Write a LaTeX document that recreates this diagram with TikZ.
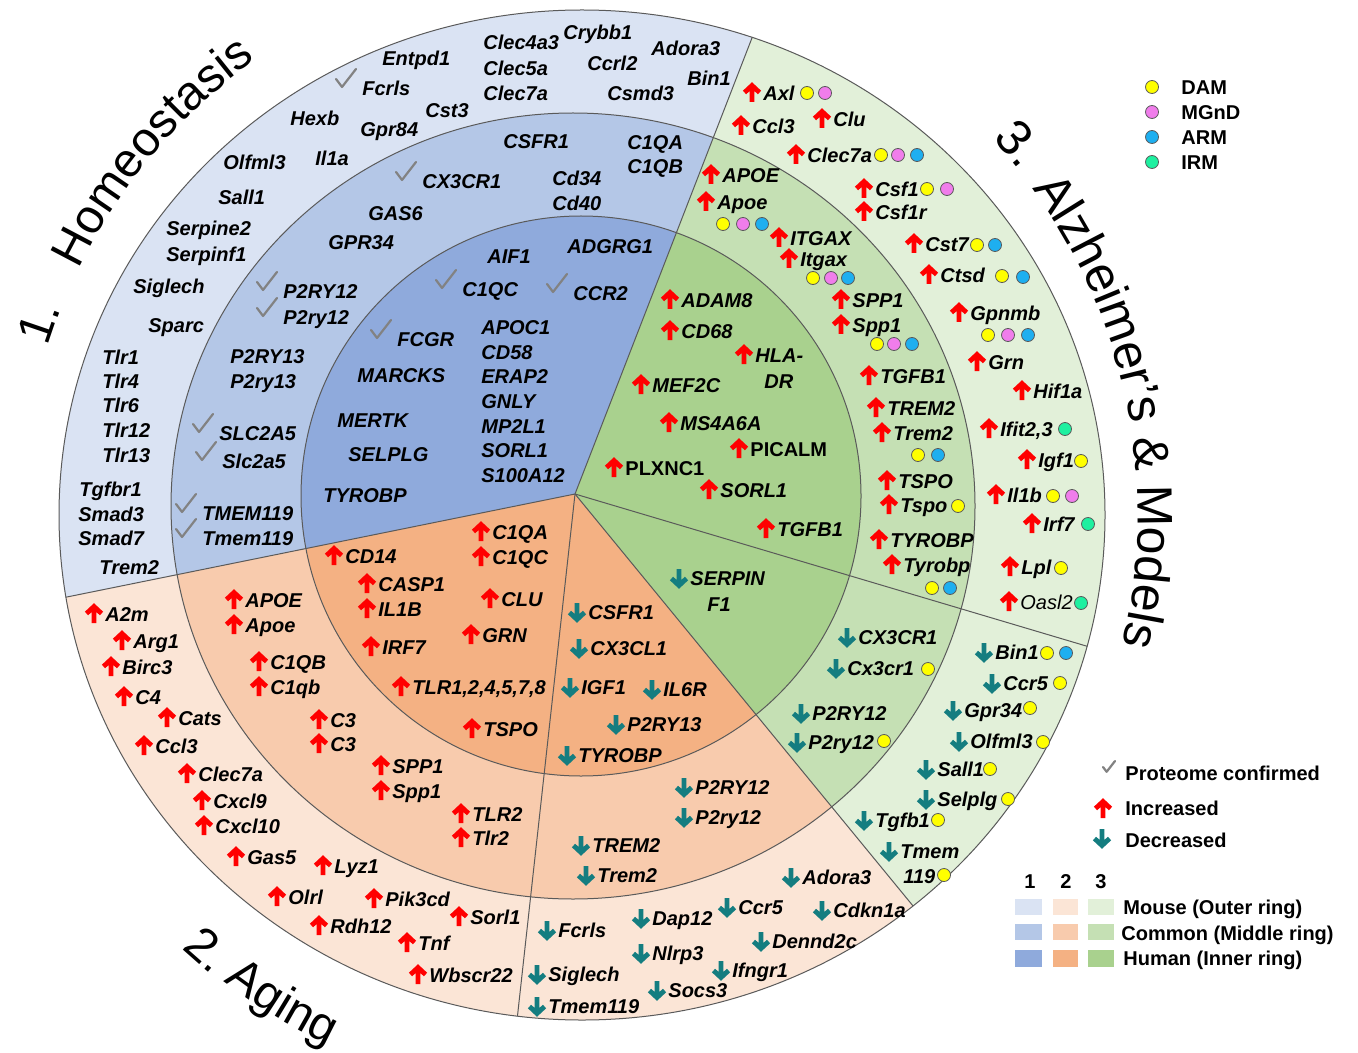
\documentclass[tikz,border=0pt]{standalone}
\usepackage{fontspec}
\setmainfont{Liberation Sans}
\usetikzlibrary{decorations.text,calc}
\definecolor{bO}{HTML}{DAE3F3}\definecolor{bM}{HTML}{B4C7E7}\definecolor{bI}{HTML}{8FAADC}
\definecolor{oO}{HTML}{FBE5D6}\definecolor{oM}{HTML}{F8CBAD}\definecolor{oI}{HTML}{F4B183}
\definecolor{gO}{HTML}{E2F0D9}\definecolor{gM}{HTML}{C5E0B4}\definecolor{gI}{HTML}{A9D18E}
\definecolor{arrred}{RGB}{255,0,0}
\definecolor{arrteal}{RGB}{20,125,128}
\definecolor{chkgray}{RGB}{130,130,130}
\definecolor{dY}{RGB}{255,255,0}\definecolor{dP}{RGB}{240,125,235}
\definecolor{dB}{RGB}{30,175,240}\definecolor{dG}{RGB}{30,240,160}
\definecolor{edge}{RGB}{90,90,90}
\newcommand\genefont{\fontsize{10}{12}\selectfont\bfseries\itshape}
\newcommand\genefontup{\fontsize{10}{12}\selectfont\bfseries}
\newcommand\genefontlight{\fontsize{10}{12}\selectfont\itshape}
\newcommand\ttlfont{\fontsize{24}{28}\selectfont}
\newcommand\ttlfontb{\fontsize{25}{29}\selectfont}
\newcounter{gn}
\tikzset{
  gene/.style={font=\genefont, inner sep=0pt, anchor=west, text height=7.2pt, text depth=0pt},
  legtext/.style={font=\genefontup, inner sep=0pt, anchor=west, text height=7.2pt, text depth=0pt},
  edgeline/.style={draw=edge, line width=0.5pt},
  uparr/.pic={\draw[arrred, line width=2.4pt] (0,9) -- (0,-6) (-7.5,-0.5) -- (0,-7.5) -- (7.5,-0.5);},
  dnarr/.pic={\draw[arrteal, line width=2.4pt] (0,-9) -- (0,6) (-7.5,0.5) -- (0,7.5) -- (7.5,0.5);},
  chk/.pic={\draw[chkgray, line width=1.1pt, line cap=round, line join=round] (-10,0) -- (-4,8) -- (10,-10);},
}
\newcommand\glab[4][]{\stepcounter{gn}\node[gene,#1] (g\arabic{gn}) at (#2,#3) {#4};}
\newcommand\gup[4][]{\glab[#1]{#2}{#3}{#4}\pic at ([xshift=-5.5pt]g\arabic{gn}.west) {uparr};}
\newcommand\gdn[4][]{\glab[#1]{#2}{#3}{#4}\pic at ([xshift=-5.5pt]g\arabic{gn}.west) {dnarr};}
\newcommand\gck[4][]{\glab[#1]{#2}{#3}{#4}\pic at ([xshift=-8pt,yshift=4.5pt]g\arabic{gn}.west) {chk};}
\newcommand\gdot[3]{\filldraw[fill=#1, draw=edge, line width=0.4pt] (#2,#3) circle[radius=6.5];}
\newcommand\ringsector[3]{\fill[#1] (P) -- ++(#2:1200) arc[start angle=#2, end angle=#3, radius=1200] -- cycle;}

\begin{document}
\begin{tikzpicture}[x=0.5pt, y=-0.5pt]
\fill[white] (0,0) rectangle (1358,1053);
\useasboundingbox (0,0) rectangle (1358,1053);
\coordinate (P) at (575,494);
\coordinate (Co) at (582,515);
\coordinate (Cm) at (573,506);
\coordinate (Ci) at (581,496);

% rings
\begin{scope}
  \clip (Co) ellipse[x radius=523, y radius=505];
  \ringsector{bO}{168.54}{291.21}
  \ringsector{oO}{50.63}{168.54}
  \ringsector{gO}{-68.79}{50.63}
\end{scope}
\begin{scope}
  \clip (Cm) ellipse[x radius=402, y radius=393];
  \ringsector{bM}{168.54}{291.21}
  \ringsector{oM}{50.63}{168.54}
  \ringsector{gM}{-68.79}{50.63}
\end{scope}
\begin{scope}
  \clip (Ci) circle[radius=280];
  \ringsector{bI}{168.54}{291.21}
  \ringsector{oI}{50.63}{168.54}
  \ringsector{gI}{-68.79}{50.63}
\end{scope}
\draw[edgeline] (Co) ellipse[x radius=523, y radius=505];
\draw[edgeline] (Cm) ellipse[x radius=402, y radius=393];
\draw[edgeline] (Ci) circle[radius=280];
\begin{scope}
  \clip (Co) ellipse[x radius=523, y radius=505];
  \foreach \a in {-68.79,16.56,50.63,96.29,168.54}{\draw[edgeline] (P) -- ++(\a:700);}
\end{scope}

% titles
\path[decorate, decoration={text along path, text={|\ttlfont|1.}}]
  ($(Co)+(-162.5:560)$) arc[start angle=-162.5, end angle=-150, radius=560];
\path[decorate, decoration={text along path, text={|\ttlfont|Homeostasis}}]
  ($(Co)+(-154:560)$) arc[start angle=-154, end angle=-100, radius=560];
\path[decorate, decoration={text along path, text={|\ttlfontb|3.}}]
  ($(Co)+(-42.5:557)$) arc[start angle=-42.5, end angle=-28, radius=557];
\path[decorate, decoration={text along path, text={|\ttlfontb|Alzheimer’s {\&} Models}}]
  ($(Co)+(-36:556)$) arc[start angle=-36, end angle=30, radius=556];
\path[decorate, decoration={text along path, text={|\ttlfont|2.}}]
  ($(Co)+(132.7:590)$) arc[start angle=132.7, end angle=118, radius=590];
\path[decorate, decoration={text along path, text={|\ttlfont|Aging}}]
  ($(Co)+(127.5:588)$) arc[start angle=127.5, end angle=100, radius=588];

% blue outer
\glab{382}{58}{Entpd1}
\gck{362}{88}{Fcrls}
\glab{290}{118}{Hexb}
\glab{360}{129}{Gpr84}
\glab{425}{110}{Cst3}
\glab{483}{42}{Clec4a3}
\glab{483}{68}{Clec5a}
\glab{483}{93}{Clec7a}
\glab{563}{32}{Crybb1}
\glab{587}{63}{Ccrl2}
\glab{607}{93}{Csmd3}
\glab{651}{48}{Adora3}
\glab{687}{78}{Bin1}
\glab{223}{162}{Olfml3}
\glab{315}{158}{Il1a}
\glab{218}{197}{Sall1}
\glab{166}{228}{Serpine2}
\glab{166}{254}{Serpinf1}
\glab{133}{286}{Siglech}
\glab{148}{325}{Sparc}
\glab{102}{357}{Tlr1}
\glab{102}{381}{Tlr4}
\glab{102}{405}{Tlr6}
\glab{102}{430}{Tlr12}
\glab{102}{455}{Tlr13}
\glab{79}{489}{Tgfbr1}
\glab{78}{514}{Smad3}
\glab{78}{538}{Smad7}
\glab{99}{567}{Trem2}
% blue middle
\glab{503}{141}{CSFR1}
\glab{627}{142}{C1QA}
\glab{627}{166}{C1QB}
\gck{422}{181}{CX3CR1}
\glab{552}{178}{Cd34}
\glab{552}{203}{Cd40}
\glab{368}{213}{GAS6}
\glab{328}{242}{GPR34}
\gck{283}{291}{P2RY12}
\gck{283}{317}{P2ry12}
\glab{230}{356}{P2RY13}
\glab{230}{381}{P2ry13}
\gck{219}{433}{SLC2A5}
\gck{222}{461}{Slc2a5}
\gck{202}{513}{TMEM119}
\gck{202}{538}{Tmem119}
% blue inner
\glab{487}{256}{AIF1}
\glab{567}{246}{ADGRG1}
\gck{462}{289}{C1QC}
\gck{573}{293}{CCR2}
\gck{397}{339}{FCGR}
\glab{481}{327}{APOC1}
\glab{481}{352}{CD58}
\glab{357}{375}{MARCKS}
\glab{481}{376}{ERAP2}
\glab{481}{401}{GNLY}
\glab{337}{420}{MERTK}
\glab{481}{426}{MP2L1}
\glab{348}{454}{SELPLG}
\glab{481}{450}{SORL1}
\glab{481}{475}{S100A12}
\glab{323}{495}{TYROBP}

% orange inner
\gup{345}{556}{CD14}
\gup{378}{584}{CASP1}
\gup{378}{609}{IL1B}
\gup{382}{647}{IRF7}
\gup{492}{532}{C1QA}
\gup{492}{557}{C1QC}
\gup{501}{599}{CLU}
\gup{482}{635}{GRN}
\gup{412}{687}{TLR1,2,4,5,7,8}
\gup{483}{729}{TSPO}
\gdn{588}{612}{CSFR1}
\gdn{590}{648}{CX3CL1}
\gdn{581}{687}{IGF1}
\gdn{663}{689}{IL6R}
\gdn{627}{724}{P2RY13}
\gdn{578}{755}{TYROBP}
% orange middle
\gup{245}{600}{APOE}
\gup{245}{625}{Apoe}
\gup{270}{662}{C1QB}
\gup{270}{687}{C1qb}
\gup{330}{720}{C3}
\gup{330}{744}{C3}
\gup{392}{766}{SPP1}
\gup{392}{791}{Spp1}
\gup{472}{814}{TLR2}
\gup{472}{838}{Tlr2}
\gdn{695}{787}{P2RY12}
\gdn{695}{817}{P2ry12}
\gdn{592}{845}{TREM2}
\gdn{597}{875}{Trem2}
% orange outer
\gup{105}{614}{A2m}
\gup{133}{641}{Arg1}
\gup{122}{667}{Birc3}
\gup{135}{697}{C4}
\gup{178}{718}{Cats}
\gup{155}{746}{Ccl3}
\gup{198}{774}{Clec7a}
\gup{213}{801}{Cxcl9}
\gup{215}{826}{Cxcl10}
\gup{247}{857}{Gas5}
\gup{334}{866}{Lyz1}
\gup{288}{897}{Olrl}
\gup{385}{899}{Pik3cd}
\gup{330}{926}{Rdh12}
\gup{470}{917}{Sorl1}
\gup{418}{943}{Tnf}
\gup{429}{975}{Wbscr22}
\gdn{558}{930}{Fcrls}
\gdn{548}{974}{Siglech}
\gdn{548}{1006}{Tmem119}
\gdn{652}{918}{Dap12}
\gdn{652}{953}{Nlrp3}
\gdn{668}{990}{Socs3}
\gdn{738}{907}{Ccr5}
\gdn{732}{970}{Ifngr1}
\gdn{802}{877}{Adora3}
\gdn{772}{941}{Dennd2c}
\gdn{833}{910}{Cdkn1a}

% green inner
\gup{681}{300}{ADAM8}
\gup{681}{331}{CD68}
\gup{755}{355}{HLA-}
\glab{764}{381}{DR}
\gup{652}{385}{MEF2C}
\gup{680}{423}{MS4A6A}
\gup[font=\genefontup]{750}{449}{PICALM}
\gup[font=\genefontup]{625}{468}{PLXNC1}
\gup{720}{490}{SORL1}
\gup{777}{529}{TGFB1}
\gdn{690}{578}{SERPIN}
\glab{707}{604}{F1}
% green middle
\gup{722}{175}{APOE}
\gup{717}{202}{Apoe}
\gdot{dY}{723}{224}\gdot{dP}{743}{224}\gdot{dB}{762}{224}
\gup{790}{238}{ITGAX}
\gup{800}{259}{Itgax}
\gdot{dY}{813}{278}\gdot{dP}{831}{278}\gdot{dB}{848}{278}
\gup{852}{300}{SPP1}
\gup{852}{325}{Spp1}
\gdot{dY}{877}{344}\gdot{dP}{894}{344}\gdot{dB}{912}{344}
\gup{880}{376}{TGFB1}
\gup{887}{408}{TREM2}
\gup{893}{433}{Trem2}
\gdot{dY}{918}{455}\gdot{dB}{938}{455}
\gup{898}{481}{TSPO}
\gup{900}{505}{Tspo}
\gdot{dY}{958}{506}
\gup{890}{540}{TYROBP}
\gup{903}{565}{Tyrobp}
\gdot{dY}{932}{588}\gdot{dB}{950}{588}
\gdn{858}{637}{CX3CR1}
\gdn{847}{668}{Cx3cr1}
\gdot{dY}{928}{669}
\gdn{812}{713}{P2RY12}
\gdn{808}{742}{P2ry12}
\gdot{dY}{884}{741}
% green outer
\gup{763}{93}{Axl}
\gdot{dY}{807}{93}\gdot{dP}{825}{93}
\gup{752}{126}{Ccl3}
\gup{833}{119}{Clu}
\gup{807}{155}{Clec7a}
\gdot{dY}{881}{155}\gdot{dP}{898}{155}\gdot{dB}{917}{155}
\gup{875}{189}{Csf1}
\gdot{dY}{927}{189}\gdot{dP}{947}{189}
\gup{875}{212}{Csf1r}
\gup{925}{244}{Cst7}
\gdot{dY}{977}{245}\gdot{dB}{995}{245}
\gup{940}{275}{Ctsd}
\gdot{dY}{1002}{276}\gdot{dB}{1023}{277}
\gup{970}{313}{Gpnmb}
\gdot{dY}{988}{335}\gdot{dP}{1008}{335}\gdot{dB}{1028}{335}
\gup{988}{362}{Grn}
\gup{1033}{391}{Hif1a}
\gup{1000}{429}{Ifit2,3}
\gdot{dG}{1065}{429}
\gup{1038}{460}{Igf1}
\gdot{dY}{1081}{461}
\gup{1007}{495}{Il1b}
\gdot{dY}{1053}{496}\gdot{dP}{1072}{496}
\gup{1043}{524}{Irf7}
\gdot{dG}{1088}{524}
\gup{1021}{567}{Lpl}
\gdot{dY}{1061}{568}
\gup[font=\genefontlight]{1020}{602}{Oasl2}
\gdot{dG}{1081}{603}
\gdn{995}{652}{Bin1}
\gdot{dY}{1047}{653}\gdot{dB}{1066}{653}
\gdn{1003}{683}{Ccr5}
\gdot{dY}{1060}{683}
\gdn{964}{710}{Gpr34}
\gdot{dY}{1030}{708}
\gdn{970}{741}{Olfml3}
\gdot{dY}{1043}{742}
\gdn{937}{769}{Sall1}
\gdot{dY}{990}{769}
\gdn{937}{799}{Selplg}
\gdot{dY}{1008}{799}
\gdn{875}{820}{Tgfb1}
\gdot{dY}{938}{820}
\gdn{900}{851}{Tmem}
\glab{903}{876}{119}
\gdot{dY}{944}{875}

% legend top right
\gdot{dY}{1152}{87}\node[legtext] (lDAM) at (1181,87) {DAM};
\gdot{dP}{1152}{112}\node[legtext] (lMGnD) at (1181,112) {MGnD};
\gdot{dB}{1152}{137}\node[legtext] (lARM) at (1181,137) {ARM};
\gdot{dG}{1152}{162}\node[legtext] (lIRM) at (1181,162) {IRM};

% legend bottom right
\node[legtext] (lprot) at (1125,773) {Proteome confirmed};
\pic[scale=0.6] at (1109,767) {chk};
\node[legtext] (linc) at (1125,808) {Increased};
\pic at (1103,809) {uparr};
\node[legtext] (ldec) at (1125,840) {Decreased};
\pic at (1102,838) {dnarr};
\node[legtext, anchor=center] (l1) at (1030,881) {1};
\node[legtext, anchor=center] (l2) at (1066,881) {2};
\node[legtext, anchor=center] (l3) at (1101,881) {3};
\fill[bO] (1015,899) rectangle (1042,915);
\fill[oO] (1053,899) rectangle (1078,915);
\fill[gO] (1088,899) rectangle (1114,915);
\fill[bM] (1015,924) rectangle (1042,940);
\fill[oM] (1053,924) rectangle (1078,940);
\fill[gM] (1088,924) rectangle (1114,940);
\fill[bI] (1015,950) rectangle (1042,967);
\fill[oI] (1053,950) rectangle (1078,967);
\fill[gI] (1088,950) rectangle (1114,967);
\node[legtext] (lmouse) at (1123,907) {Mouse (Outer ring)};
\node[legtext] (lcommon) at (1121,933) {Common (Middle ring)};
\node[legtext] (lhuman) at (1123,958) {Human (Inner ring)};
\end{tikzpicture}
\end{document}
